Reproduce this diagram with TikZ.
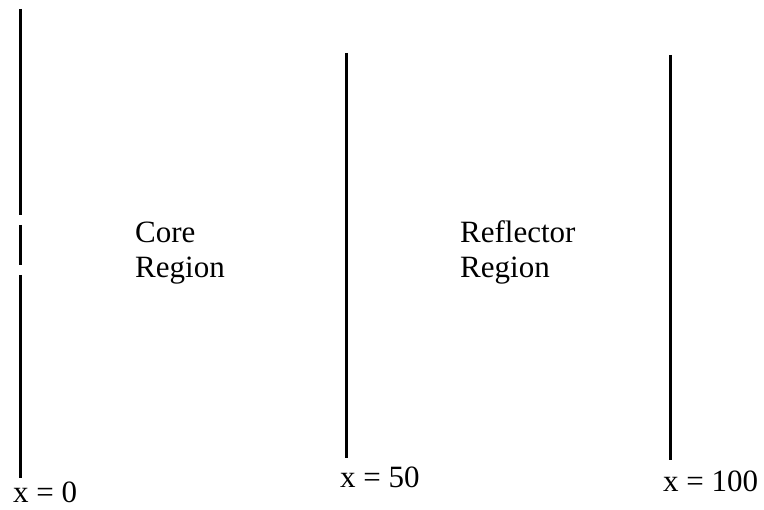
\documentclass[tikz,border=0pt]{standalone}
\usepackage{fontspec}
\setmainfont{Liberation Serif}
\usepackage{tikz}
\usetikzlibrary{positioning}
\begin{document}
\begin{tikzpicture}[x=1pt, y=-1pt,
    wall/.style={line width=3pt},
    region/.style={font=\fontsize{31}{35}\selectfont, anchor=base west, align=left, inner sep=0pt},
    xlabel/.style={font=\fontsize{31}{35}\selectfont, anchor=base west, inner sep=0pt}]
\useasboundingbox (0,0) rectangle (764,510);

% ---- x = 0, broken twice near mid-height
\draw[wall] (20,9) -- (20,215);
\draw[wall] (20,225) -- (20,265);
\draw[wall] (20,275) -- (20,478);
\node[xlabel] (xzero) at (13,503) {x = 0};

% ---- x = 50
\draw[wall] (346,53) -- (346,458);
\node[xlabel] (xfifty) at (340,488) {x = 50};

% ---- x = 100
\draw[wall] (670,55) -- (670,460);
\node[xlabel] (xhundred) at (663,492) {x = 100};

% ---- region names (base anchor sits on the last line)
\node[region] (core) at (135,278) {Core\\Region};
\node[region] (refl) at (460,278) {Reflector\\Region};
\end{tikzpicture}
\end{document}
